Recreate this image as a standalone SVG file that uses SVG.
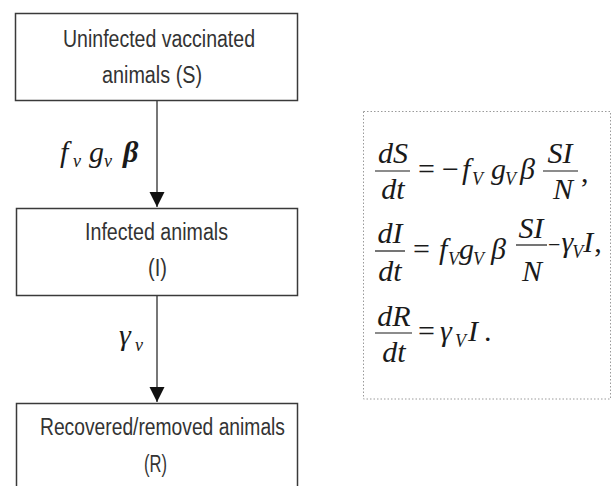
<svg xmlns="http://www.w3.org/2000/svg" width="612" height="486" viewBox="0 0 612 486">
  <defs>
    <marker id="arrow" markerUnits="userSpaceOnUse" markerWidth="16" markerHeight="16" refX="15" refY="7.5" orient="auto">
      <path d="M0,0 L15,7.5 L0,15 z" fill="#111"/>
    </marker>
    <style>
      .box { fill: #fff; stroke: #3a3a3a; stroke-width: 1.5; }
      .lbl { font-family: "Liberation Sans Narrow", "Liberation Sans", Arial, sans-serif; font-size: 23px; fill: #333; text-anchor: middle; }
      .conn { stroke: #4a4a4a; stroke-width: 1.5; fill: none; }
      .m { font-family: "Liberation Serif", "Times New Roman", serif; font-style: italic; font-size: 30px; fill: #1a1a1a; }
      .mr { font-family: "Liberation Serif", "Times New Roman", serif; font-size: 30px; fill: #1a1a1a; }
      .sub { font-family: "Liberation Serif", "Times New Roman", serif; font-style: italic; font-size: 18px; fill: #1a1a1a; }
      .mid { text-anchor: middle; }
      .bar { stroke: #1a1a1a; stroke-width: 1.2; }
      .rate { font-family: "Liberation Serif", "Times New Roman", serif; font-style: italic; font-size: 30px; fill: #1a1a1a; }
      .rsub { font-family: "Liberation Serif", "Times New Roman", serif; font-style: italic; font-size: 18px; fill: #1a1a1a; }
    </style>
  </defs>

  <!-- connectors with transition rates -->
  <g id="connectors">
    <line class="conn" x1="157" y1="100" x2="157" y2="207" marker-end="url(#arrow)"/>
    <line class="conn" x1="157" y1="295" x2="157" y2="402" marker-end="url(#arrow)"/>
    <g id="rate-infection">
      <text class="rate" x="60" y="162">f</text>
      <text class="rsub" x="73" y="167">v</text>
      <text class="rate" x="89" y="162">g</text>
      <text class="rsub" x="104" y="167">v</text>
      <text class="rate" x="123" y="162" font-weight="bold" font-size="32">β</text>
    </g>
    <g id="rate-recovery">
      <text class="rate" x="119" y="345" font-size="32">γ</text>
      <text class="rsub" x="135" y="351">v</text>
    </g>
  </g>

  <!-- compartments -->
  <g id="node-S">
    <rect class="box" x="15.5" y="13.5" width="282" height="87"/>
    <text class="lbl" x="159" y="47" textLength="192" lengthAdjust="spacingAndGlyphs">Uninfected vaccinated</text>
    <text class="lbl" x="152" y="83" textLength="100" lengthAdjust="spacingAndGlyphs">animals (S)</text>
  </g>
  <g id="node-I">
    <rect class="box" x="16.5" y="208.5" width="281" height="87"/>
    <text class="lbl" x="156.5" y="240" textLength="143" lengthAdjust="spacingAndGlyphs">Infected animals</text>
    <text class="lbl" x="157.5" y="276" textLength="19" lengthAdjust="spacingAndGlyphs">(I)</text>
  </g>
  <g id="node-R">
    <rect class="box" x="16.5" y="403.5" width="281" height="100"/>
    <text class="lbl" x="162.5" y="435" textLength="245" lengthAdjust="spacingAndGlyphs">Recovered/removed animals</text>
    <text class="lbl" x="155.5" y="472" textLength="23" lengthAdjust="spacingAndGlyphs">(R)</text>
  </g>

  <!-- model equations -->
  <g id="equations">
    <rect x="363.5" y="111.5" width="247" height="287.5" fill="none" stroke="#9a9a9a" stroke-width="1" stroke-dasharray="1.5 2"/>

    <!-- dS/dt -->
    <text class="m mid" x="393" y="163">dS</text>
    <line class="bar" x1="375" y1="171" x2="410" y2="171"/>
    <text class="m mid" x="393" y="199">dt</text>
    <text class="mr" x="418" y="179">=</text>
    <text class="mr" x="442" y="179">−</text>
    <text class="m" x="462" y="179">f</text>
    <text class="sub" x="472" y="185">V</text>
    <text class="m" x="491" y="179">g</text>
    <text class="sub" x="505" y="185">V</text>
    <text class="m" x="520" y="179">β</text>
    <text class="m mid" x="560" y="163">SI</text>
    <line class="bar" x1="543" y1="171" x2="578" y2="171"/>
    <text class="m mid" x="563" y="199">N</text>
    <text class="mr" x="581" y="182">,</text>

    <!-- dI/dt -->
    <text class="m mid" x="390" y="243">dI</text>
    <line class="bar" x1="375" y1="251" x2="405" y2="251"/>
    <text class="m mid" x="390" y="281">dt</text>
    <text class="mr" x="413" y="259">=</text>
    <text class="m" x="439" y="259">f</text>
    <text class="sub" x="448" y="265">V</text>
    <text class="m" x="459" y="259">g</text>
    <text class="sub" x="473" y="265">V</text>
    <text class="m" x="491" y="259">β</text>
    <text class="m mid" x="531" y="238">SI</text>
    <line class="bar" x1="516" y1="245" x2="547" y2="245"/>
    <text class="m mid" x="532" y="281">N</text>
    <text class="m" x="548" y="252"><tspan font-style="normal" font-size="22">−</tspan><tspan dx="1">γ</tspan><tspan font-size="18" dy="6" dx="-1">V</tspan><tspan dy="-6">I</tspan><tspan font-style="normal" dx="1">,</tspan></text>

    <!-- dR/dt -->
    <text class="m mid" x="394" y="326">dR</text>
    <line class="bar" x1="375" y1="333" x2="412" y2="333"/>
    <text class="m mid" x="394" y="362">dt</text>
    <text class="mr" x="418" y="341">=</text>
    <text class="m" x="440" y="341">γ</text>
    <text class="sub" x="455" y="347">V</text>
    <text class="m" x="468" y="341">I</text>
    <text class="mr" x="484" y="341">.</text>
  </g>
</svg>
